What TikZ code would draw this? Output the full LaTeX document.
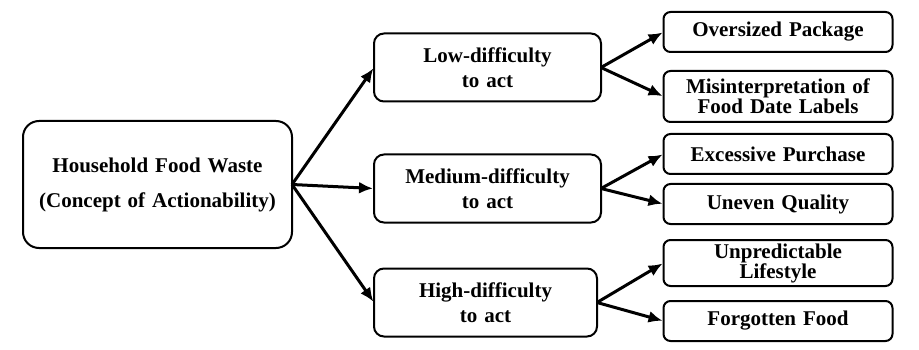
\documentclass[tikz,border=0pt]{standalone}
\usepackage{fontspec}
\setmainfont{Liberation Serif}
\usetikzlibrary{arrows.meta,positioning}
\tikzset{
  mainbox/.style={draw,line width=2pt,rounded corners=16pt,minimum width=269pt,minimum height=127pt,align=center,text width=255pt,inner sep=0pt,outer sep=0pt,font=\bfseries\fontsize{21}{35}\selectfont},
  levelbox/.style={draw,line width=2pt,rounded corners=10pt,minimum width=227pt,minimum height=68pt,align=center,text width=215pt,inner sep=0pt,outer sep=0pt,font=\bfseries\fontsize{21}{25}\selectfont},
  causebox/.style={draw,line width=2pt,rounded corners=7pt,minimum width=229pt,minimum height=40pt,align=center,text width=222pt,inner sep=0pt,outer sep=0pt,font=\bfseries\fontsize{21}{20}\selectfont},
  link/.style={-{Latex[length=14pt,width=12pt]},line width=3pt,shorten >=1pt}
}
\begin{document}
\begin{tikzpicture}
      \useasboundingbox (0,0) rectangle (919pt,-350pt);
      \node[mainbox] (hfw) at (157.5pt,-184.5pt) {Household Food Waste\\(Concept of Actionability)};
      \node[levelbox] (low) at (487.5pt,-67.5pt) {Low-difficulty\\to act};
      \node[levelbox,below=53pt of low] (med) {Medium-difficulty\\to act};
      \node[levelbox,minimum width=223pt,below right=46pt and 0pt of med.south west] (high) {High-difficulty\\to act};
      \node[causebox] (ovs) at (778pt,-32pt) {Oversized Package};
      \node[causebox,minimum height=51pt,below=19pt of ovs] (mis) {Misinterpretation of\\Food Date Labels};
      \node[causebox,below=12pt of mis] (exc) {Excessive Purchase};
      \node[causebox,below=10pt of exc] (unq) {Uneven Quality};
      \node[causebox,minimum height=46pt,below=16pt of unq] (unp) {Unpredictable\\Lifestyle};
      \node[causebox,below=15pt of unp] (fgt) {Forgotten Food};
      \draw[link] (hfw.east) -- (low.west);
      \draw[link] (hfw.east) -- (med.west);
      \draw[link] (hfw.east) -- (high.west);
      \draw[link] (low.east) -- (ovs.west);
      \draw[link] (low.east) -- (mis.west);
      \draw[link] (med.east) -- (exc.west);
      \draw[link] (med.east) -- (unq.west);
      \draw[link] (high.east) -- (unp.west);
      \draw[link] (high.east) -- (fgt.west);
    \end{tikzpicture}
\end{document}
